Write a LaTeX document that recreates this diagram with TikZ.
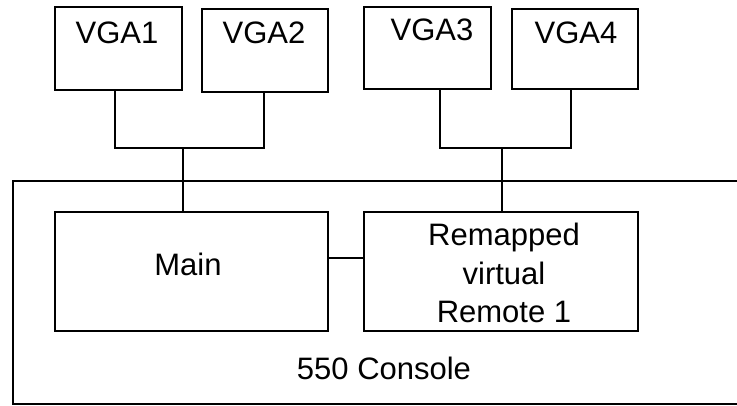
\documentclass[tikz,border=0pt]{standalone}
\usepackage{fontspec}
\setmainfont{Liberation Sans}
\begin{document}
\begin{tikzpicture}[x=1pt,y=-1pt, line width=1.9pt,
  box/.style={draw, rectangle, inner sep=0pt, outer sep=0pt, anchor=north west},
  txt/.style={font=\fontsize{31}{38.5}\selectfont, inner sep=0pt, align=center}]
\useasboundingbox (0,0) rectangle (737,406);
\begin{scope}
  \clip (0,0) rectangle (737,406);
  \node[box, minimum width=760, minimum height=223] (console) at (13,181) {};
\end{scope}
\node[box, minimum width=127, minimum height=83] (vga1) at (55,7) {};
\node[box, minimum width=126, minimum height=83] (vga2) at (202,9) {};
\node[box, minimum width=127, minimum height=82] (vga3) at (364,7) {};
\node[box, minimum width=126, minimum height=80] (vga4) at (512,9) {};
\node[box, minimum width=273, minimum height=119] (main) at (55,212) {};
\node[box, minimum width=274, minimum height=119] (remap) at (364,212) {};

\node[txt] (t1) at (117,33) {VGA1};
\node[txt] (t2) at (264,33) {VGA2};
\node[txt] (t3) at (432,30) {VGA3};
\node[txt] (t4) at (576,33) {VGA4};
\node[txt] (tm) at (188,264) {Main};
\node[txt] (tr) at (504,273) {Remapped\\virtual\\Remote 1};
\node[txt] (tc) at (384,368) {550 Console};

\coordinate (j1) at (183,148);
\coordinate (j2) at (502,148);
\draw ([xshift=-3.5pt]vga1.south) |- (j1) -| ([xshift=-1pt]vga2.south);
\draw (j1) -- (j1 |- main.north);
\draw ([xshift=12.5pt]vga3.south) |- (j2) -| ([xshift=-4pt]vga4.south);
\draw (j2) -- (j2 |- remap.north);
\draw (main.east |- 0,258) -- (remap.west |- 0,258);
\end{tikzpicture}
\end{document}
